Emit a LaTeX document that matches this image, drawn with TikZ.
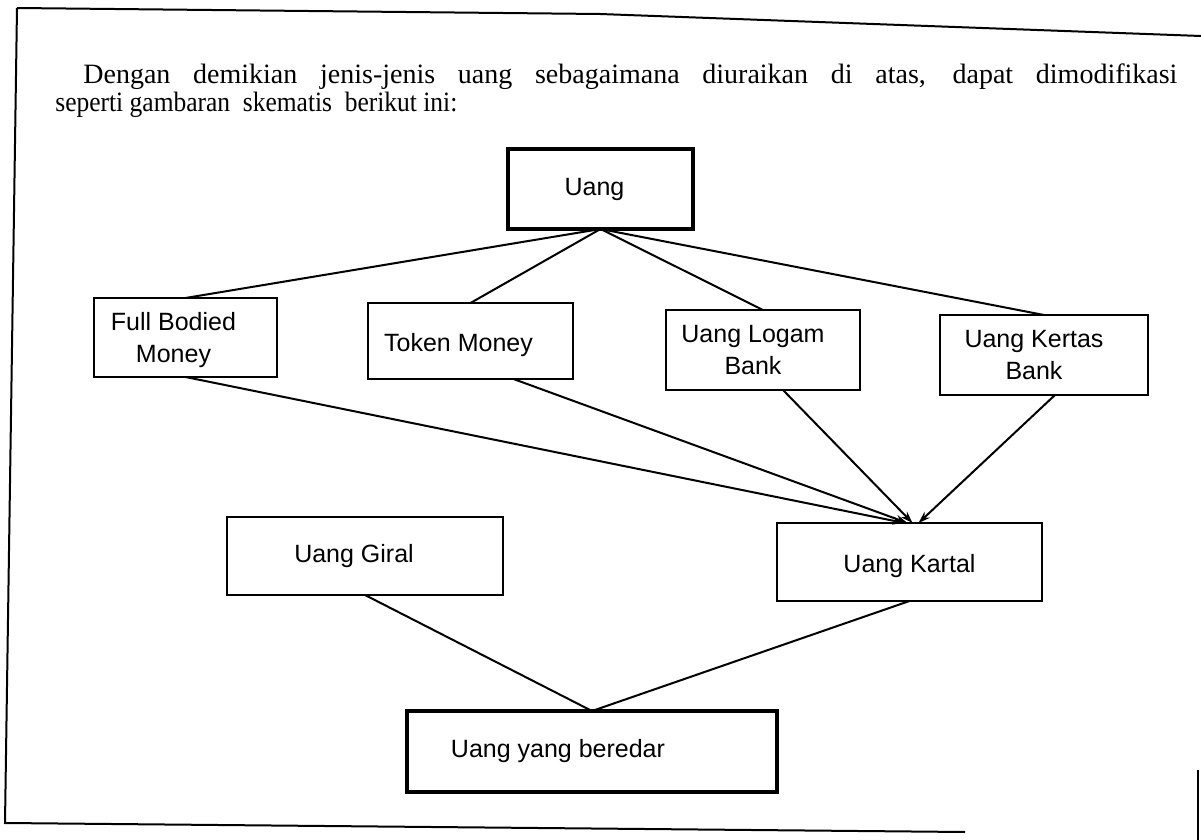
\documentclass[tikz,border=0pt]{standalone}
\usepackage{fontspec}
\setmainfont{Liberation Serif}
\newfontfamily\diagfont{Liberation Sans}
\usetikzlibrary{arrows.meta,calc}
\begin{document}
\begin{tikzpicture}[x=0.5pt,y=-0.5pt,
  box/.style={draw, line width=0.8pt, rectangle, inner sep=0pt, outer sep=0pt},
  bold/.style={box, line width=2.2pt},
  txt/.style={font=\diagfont\fontsize{12.5}{16}\selectfont, align=center, inner sep=0pt},
  link/.style={line width=1pt},
  arr/.style={link, -{Stealth[length=6pt,width=4pt]}},
  frameline/.style={line width=1pt},
  para/.style={anchor=base west, inner sep=0pt, font=\fontsize{14}{17}\selectfont}]
\useasboundingbox (0,0) rectangle (1201,840);

% frame of the scanned page
\draw[frameline] (17,8) -- (600,14) -- (1201,36);
\draw[frameline] (17,8) -- (5,823) -- (965,832);
\draw[frameline] (1198,770) -- (1198,840);

% paragraph
\node[para] (l1) at (83,84) {\makebox[547pt][s]{Dengan demikian jenis-jenis uang sebagaimana diuraikan di atas, dapat dimodifikasi}};
\node[para] (l2) at (55,112) {\scalebox{0.91}[1]{seperti gambaran\ \ skematis\ \ berikut ini:}};

% boxes
\node[bold, minimum width=92.5pt, minimum height=40pt,
  label={[txt,xshift=-3pt]center:Uang}] (uang) at (600.5,189) {};
\node[box, minimum width=91.5pt, minimum height=39.5pt,
  label={[txt,xshift=-6pt,yshift=-1.5pt]center:Full Bodied\\Money}] (fbm) at (185.5,337.5) {};
\node[box, minimum width=102.5pt, minimum height=38pt,
  label={[txt,xshift=-6pt,yshift=-2pt]center:Token Money}] (token) at (470.5,341) {};
\node[box, minimum width=97pt, minimum height=40pt,
  label={[txt,xshift=-5pt]center:Uang Logam\\Bank}] (logam) at (763,350) {};
\node[box, minimum width=104pt, minimum height=40pt,
  label={[txt,xshift=-5pt]center:Uang Kertas\\Bank}] (kertas) at (1044,355) {};
\node[box, minimum width=138pt, minimum height=39pt,
  label={[txt,xshift=-5.5pt]center:Uang Giral}] (giral) at (365,556) {};
\node[box, minimum width=132.5pt, minimum height=39pt,
  label={[txt,yshift=-2pt]center:Uang Kartal}] (kartal) at (909.5,562) {};
\node[bold, minimum width=185pt, minimum height=40.5pt,
  label={[txt,xshift=-17pt]center:Uang yang beredar}] (beredar) at (592,751.5) {};

% connectors
\draw[link] (uang.south) -- (fbm.north);
\draw[link] (uang.south) -- (token.north);
\draw[link] (uang.south) -- (logam.north);
\draw[link] (uang.south) -- (kertas.north);
\draw[arr] (fbm.south) -- ($(kartal.north)+(-5,0)$);
\draw[arr] ($(token.south)+(43,0)$) -- ($(kartal.north)+(-2,0)$);
\draw[arr] ($(logam.south)+(20,0)$) -- ($(kartal.north)+(3,0)$);
\draw[arr] ($(kertas.south)+(11,0)$) -- ($(kartal.north)+(9,0)$);
\draw[link] (giral.south) -- (beredar.north);
\draw[link] (kartal.south) -- (beredar.north);
\end{tikzpicture}
\end{document}
